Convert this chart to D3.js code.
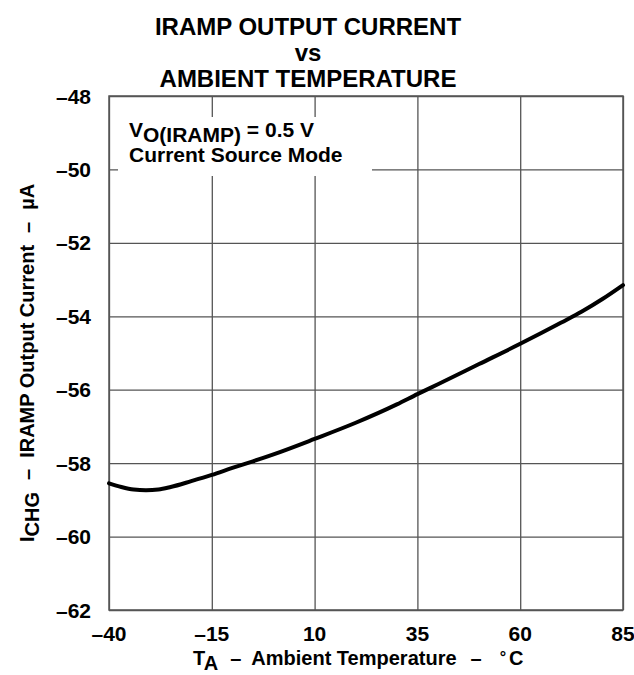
<!DOCTYPE html>
<html>
<head>
<meta charset="utf-8">
<script src="https://cdn.jsdelivr.net/npm/d3@7"></script>
<style>
  html, body { margin: 0; padding: 0; background: #fff; }
  svg text { font-family: "Liberation Sans", Arial, Helvetica, sans-serif; font-weight: bold; fill: #000; }
</style>
</head>
<body>
<svg id="chart" width="634" height="675"></svg>
<script>
// Data
const temperature = [-40, -37, -34, -31, -28, -25, -20, -15, -10, -5, 0, 10, 20, 30, 35, 40, 50, 60, 70, 75, 80, 85];
const current =     [-58.55, -58.65, -58.72, -58.74, -58.72, -58.65, -58.49, -58.32, -58.13, -57.95, -57.76, -57.34, -56.9, -56.4, -56.12, -55.85, -55.3, -54.75, -54.17, -53.87, -53.53, -53.15];
const xTicks = [-40, -15, 10, 35, 60, 85];
const yTicks = [-48, -50, -52, -54, -56, -58, -60, -62];
const titleLines = ["IRAMP OUTPUT CURRENT", "vs", "AMBIENT TEMPERATURE"];

const svg = d3.select("#chart");
const pL = 109, pR = 623, pT = 96, pB = 610;

const x = d3.scaleLinear().domain([-40, 85]).range([pL, pR]);
const y = d3.scaleLinear().domain([-62, -48]).range([pB, pT]);
const fmt = d => (d < 0 ? "\u2013" + Math.abs(d) : String(d));

// grid via axes
const gridColor = "#555";
svg.append("g")
  .attr("transform", `translate(0,${pB})`)
  .call(d3.axisBottom(x).tickValues(xTicks).tickSize(-(pB - pT)).tickFormat(""))
  .call(g => g.select(".domain").remove())
  .call(g => g.selectAll("line").attr("stroke", gridColor).attr("stroke-width", 1.3));
svg.append("g")
  .attr("transform", `translate(${pL},0)`)
  .call(d3.axisLeft(y).tickValues(yTicks).tickSize(-(pR - pL)).tickFormat(""))
  .call(g => g.select(".domain").remove())
  .call(g => g.selectAll("line").attr("stroke", gridColor).attr("stroke-width", 1.3));

// frame
svg.append("rect").attr("x", pL).attr("y", pT).attr("width", pR - pL).attr("height", pB - pT)
  .attr("fill", "none").attr("stroke", gridColor).attr("stroke-width", 1.5);

// tick labels
svg.append("g").selectAll("text").data(xTicks).join("text")
  .attr("x", d => x(d)).attr("y", 641).attr("text-anchor", "middle")
  .style("font-size", "21px").text(fmt);
svg.append("g").selectAll("text").data(yTicks).join("text")
  .attr("x", 91).attr("y", d => y(d)).attr("dy", "0.36em").attr("text-anchor", "end")
  .style("font-size", "21px").text(fmt);

// legend box
svg.append("rect").attr("x", 118).attr("y", 117).attr("width", 254).attr("height", 59).attr("fill", "#fff");
const l1 = svg.append("text").attr("x", 129).attr("y", 137).style("font-size", "21px");
l1.append("tspan").text("V");
l1.append("tspan").attr("dy", 5).text("O(IRAMP)");
l1.append("tspan").attr("dy", -5).text(" = 0.5 V");
svg.append("text").attr("x", 129).attr("y", 162).style("font-size", "21px").text("Current Source Mode");

// curve
const line = d3.line().x((d, i) => x(temperature[i])).y(d => y(d)).curve(d3.curveMonotoneX);
svg.append("path").datum(current).attr("d", line)
  .attr("fill", "none").attr("stroke", "#000").attr("stroke-width", 4).attr("stroke-linecap", "round");

// title
svg.append("g").selectAll("text").data(titleLines).join("text")
  .attr("x", 308).attr("y", (d, i) => 35 + i * 26).attr("text-anchor", "middle")
  .style("font-size", "24px").text(d => d);

// x axis label
const xl = svg.append("text").attr("x", 193).attr("y", 665).attr("text-anchor", "start").style("font-size", "20px");
xl.append("tspan").text("T");
xl.append("tspan").attr("dy", 5).text("A");
xl.append("tspan").attr("dy", -5).attr("dx", 12).text("\u2013");
xl.append("tspan").attr("dx", 10).text("Ambient Temperature");
xl.append("tspan").attr("dx", 14).text("\u2013");
xl.append("tspan").attr("dx", 18).attr("dy", -2).style("font-size", "16px").text("\u00B0");
xl.append("tspan").attr("dx", 3).attr("dy", 2).text("C");

// y axis label
const yl = svg.append("text").attr("transform", "translate(34,542) rotate(-90)").attr("text-anchor", "start").style("font-size", "20px");
yl.append("tspan").text("I");
yl.append("tspan").attr("dy", 5).text("CHG");
yl.append("tspan").attr("dy", -5).attr("dx", 12).text("\u2013");
yl.append("tspan").attr("dx", 11).text("IRAMP Output Current");
yl.append("tspan").attr("dx", 12).text("\u2013");
yl.append("tspan").attr("dx", 12).text("\u00B5A");
</script>
</body>
</html>
